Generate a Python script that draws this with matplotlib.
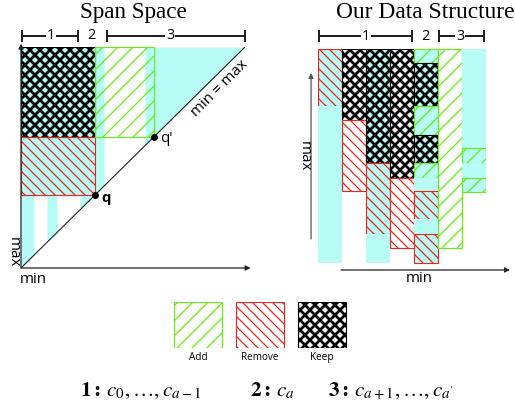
import matplotlib.pyplot as plt
from matplotlib.patches import Rectangle

W, H, DPI = 515, 407, 90

CYAN = '#b8fcf6'
GREEN = '#66ee11'
RED = '#e8251c'
SANS = ['Open Sans', 'DejaVu Sans']
SERIF = ['Liberation Serif', 'DejaVu Serif']

# hatch styles: colour, hatch pattern, hatch line width
STYLE = {
    'add': (GREEN, '//', 1.0),
    'remove': (RED, '\\\\\\', 1.0),
    'keep': ('black', 'xxx', 2.2),
}

# --- span space (x = min, y = max), both scaled to 0..1 ---
q = 0.33           # query q
q2 = 0.595         # query q'
stripe_lo = [0.0, 0.116, 0.263, 0.33, 0.553]   # cyan cell stripes, above min = max
stripe_hi = [0.058, 0.161, 0.33, 0.371, 1.0]

# --- our data structure: one column per cell, segments along max ---
seg_col = [0, 0,
           1, 1,
           2, 2, 2,
           3, 3,
           4, 4, 4, 4, 4, 4, 4, 4, 4,
           5,
           6, 6, 6, 6]
seg_lo = [164, 7,
          150, 79,
          107, 36, 7,
          92, 22,
          207, 164, 135, 107, 92, 79, 51, 36, 7,
          22,
          122, 107, 92, 78]
seg_hi = [221, 164,
          221, 150,
          221, 107, 36,
          221, 92,
          221, 207, 164, 135, 107, 92, 79, 51, 36,
          221,
          221, 122, 107, 92]
seg_kind = ['remove', 'cyan',
            'keep', 'remove',
            'keep', 'remove', 'cyan',
            'keep', 'remove',
            'add', 'keep', 'add', 'keep', 'add', 'cyan', 'remove', 'cyan', 'remove',
            'add',
            'cyan', 'add', 'cyan', 'add']
col_cyan = [True, False, True, False, True, False, True]

legend_names = ['Add', 'Remove', 'Keep']
legend_kinds = ['add', 'remove', 'keep']


def box(ax, x, y, w, h, kind, bg='none'):
    color, hatch, hlw = STYLE[kind]
    with plt.rc_context({'hatch.linewidth': hlw}):
        p = Rectangle((x, y), w, h, facecolor=bg, edgecolor=color, hatch=hatch, lw=0.9)
        if hasattr(p, 'set_hatch_linewidth'):
            p.set_hatch_linewidth(hlw)
        ax.add_patch(p)


def arrow(ax, start, end, color='#222222'):
    ax.annotate('', xy=end, xytext=start, annotation_clip=False,
                arrowprops=dict(arrowstyle='-|>', lw=1.0, color=color,
                                shrinkA=0, shrinkB=0, mutation_scale=8))


def bracket(ax, x0, x1, y, label, lx):
    if x1 is not None:
        ax.plot([x0, x1], [y, y], color='#222222', lw=1.6, marker='|', ms=9, mew=1.6, clip_on=False)
    ax.text(lx, y, label, ha='center', va='center', size=11.5, family=SANS,
            bbox=dict(fc='white', ec='none', pad=0.8), clip_on=False)


fig = plt.figure(figsize=(W / DPI, H / DPI), dpi=DPI)


def px_axes(x0, y0, x1, y1):
    a = fig.add_axes([x0 / W, 1 - y1 / H, (x1 - x0) / W, (y1 - y0) / H])
    a.set_axis_off()
    return a


# ---------------- Span Space ----------------
ax = px_axes(21, 47, 245, 268)
ax.set_xlim(0, 1)
ax.set_ylim(0, 1)
ax.fill_between([0, q], q, 1, color=CYAN, lw=0)
for lo, hi in zip(stripe_lo, stripe_hi):
    ax.fill_between([lo, hi], [lo, hi], 1, color=CYAN, lw=0)
box(ax, 0, q2, q, 1 - q2, 'keep')
box(ax, 0, q, q, q2 - q, 'remove')
box(ax, q, q2, q2 - q, 1 - q2, 'add')
ax.plot([0, 1], [0, 1], color='#222222', lw=0.9)
arrow(ax, (0, 0), (1.025, 0))
arrow(ax, (0, 0), (0, 1.015))
ax.plot([q, q2], [q, q2], 'o', color='black', ms=4.5)
ax.text(q + 0.027, q - 0.012, 'q', ha='left', va='center', size=12, weight='bold', family=SANS)
ax.text(q2 + 0.027, q2 - 0.01, "q'", ha='left', va='center', size=12, family=SANS)
ax.text(0.885, 0.814, 'min = max', rotation=45, ha='center', va='center', size=12, family=SANS)
ax.text(-0.036, 0.072, 'max', rotation=-90, ha='center', va='center', size=12, family=SANS)
ax.text(-0.006, -0.02, 'min', ha='left', va='top', size=12, family=SANS)
bracket(ax, 0.004, 0.254, 1.05, '1', 0.134)
bracket(ax, 0.315, None, 1.05, '2', 0.315)
bracket(ax, 0.384, 1.0, 1.05, '3', 0.665)

# ---------------- Our Data Structure ----------------
bx = px_axes(318, 49, 486, 270)
bx.set_xlim(0, 7)
bx.set_ylim(0, 221)
for c, lo, hi, kind in zip(seg_col, seg_lo, seg_hi, seg_kind):
    if kind == 'cyan':
        bx.add_patch(Rectangle((c, lo), 1, hi - lo, facecolor=CYAN, lw=0))
    else:
        box(bx, c, lo, 1, hi - lo, kind, CYAN if col_cyan[c] else 'white')
arrow(bx, (-0.29, 31), (-0.29, 197), color='#555555')
arrow(bx, (0.96, 0), (8.0, 0))
bx.text(-0.58, 114, 'max', rotation=-90, ha='center', va='center', size=12, family=SANS)
bx.text(4.2, -9, 'min', ha='center', va='center', size=12, family=SANS)
bracket(bx, 0.04, 3.92, 234, '1', 2.0)
bracket(bx, 4.46, None, 234, '2', 4.46)
bracket(bx, 5.04, 6.92, 234, '3', 5.92)

# ---------------- titles ----------------
fig.text(133.5 / W, 1 - 18 / H, 'Span Space', ha='center', va='baseline', size=18.5, family=SERIF)
fig.text(425 / W, 1 - 18 / H, 'Our Data Structure', ha='center', va='baseline', size=18.8, family=SERIF)

# ---------------- legend ----------------
lx = px_axes(167, 302, 353, 348)
lx.set_xlim(0, 3)
lx.set_ylim(0, 1)
for i, (name, kind) in enumerate(zip(legend_names, legend_kinds)):
    box(lx, i + 0.12, 0, 0.76, 1, kind, 'white')
    lx.text(i + 0.5, -0.2, name, ha='center', va='center', size=8, family=SANS, clip_on=False)

# ---------------- caption ----------------
plt.rcParams['mathtext.fontset'] = 'stix'
cap_y = 1 - 396 / H
fig.text(80 / W, cap_y, r'$\mathbf{1:}\,c_0,\ldots,c_{a-1}$', size=17, family='STIXGeneral', va='baseline')
fig.text(250 / W, cap_y, r'$\mathbf{2:}\,c_a$', size=17, family='STIXGeneral', va='baseline')
fig.text(328 / W, cap_y, r"$\mathbf{3:}\,c_{a+1},\ldots,c_{a'}$", size=17, family='STIXGeneral', va='baseline')

fig.savefig('out.png', dpi=DPI)
